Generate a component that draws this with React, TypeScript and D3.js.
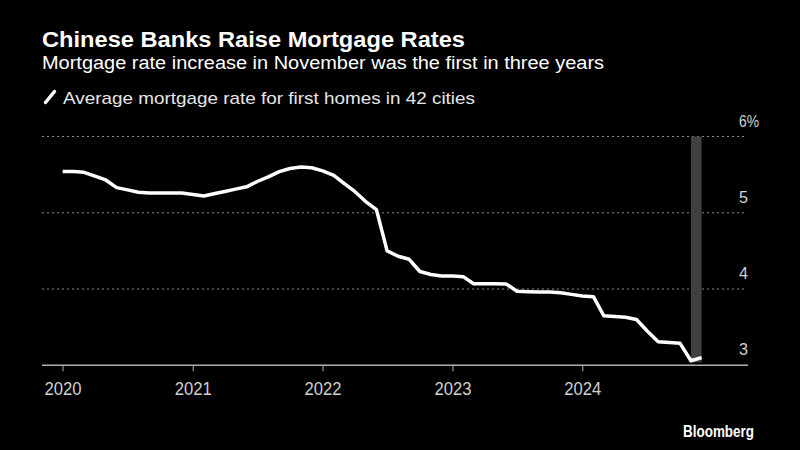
import React from "react";
import * as d3 from "d3";

const months: string[] = [
  "2019-12",
  "2020-01","2020-02","2020-03","2020-04","2020-05","2020-06","2020-07","2020-08","2020-09","2020-10","2020-11","2020-12",
  "2021-01","2021-02","2021-03","2021-04","2021-05","2021-06","2021-07","2021-08","2021-09","2021-10","2021-11","2021-12",
  "2022-01","2022-02","2022-03","2022-04","2022-05","2022-06","2022-07","2022-08","2022-09","2022-10","2022-11","2022-12",
  "2023-01","2023-02","2023-03","2023-04","2023-05","2023-06","2023-07","2023-08","2023-09","2023-10","2023-11","2023-12",
  "2024-01","2024-02","2024-03","2024-04","2024-05","2024-06","2024-07","2024-08","2024-09","2024-10","2024-11",
];

const rates: number[] = [
  5.54,
  5.54, 5.53, 5.48, 5.43, 5.33, 5.30, 5.27, 5.26, 5.26, 5.26, 5.26, 5.24,
  5.22, 5.25, 5.28, 5.31, 5.34, 5.41, 5.47, 5.54, 5.58, 5.60, 5.59, 5.55,
  5.49, 5.39, 5.28, 5.15, 5.04, 4.50, 4.43, 4.39, 4.23, 4.19, 4.17, 4.17,
  4.16, 4.07, 4.07, 4.07, 4.065, 3.97, 3.965, 3.96, 3.96, 3.95, 3.93, 3.91,
  3.90, 3.65, 3.64, 3.63, 3.60, 3.45, 3.31, 3.30, 3.29, 3.06, 3.10,
];

const yearTicks: number[] = [2020, 2021, 2022, 2023, 2024];
const yTicks: number[] = [3, 4, 5, 6];
const highlightMonths: string[] = ["2024-10", "2024-11"];

const TITLE = "Chinese Banks Raise Mortgage Rates";
const SUBTITLE = "Mortgage rate increase in November was the first in three years";
const LEGEND = "Average mortgage rate for first homes in 42 cities";

const monthEnd = (s: string) => {
  const [y, m] = s.split("-").map(Number);
  return new Date(y, m, 0);
};

export default function App() {
  const W = 800;
  const H = 450;
  const left = 42;
  const right = 748;

  const x = d3
    .scaleTime()
    .domain([new Date(2020, 0, 1), new Date(2025, 0, 1)])
    .range([63, 713]);
  const y = d3.scaleLinear().domain([3, 6]).range([365.3, 136.5]);

  const data = months.map((m, i) => ({ date: monthEnd(m), v: rates[i] }));
  const line = d3
    .line<{ date: Date; v: number }>()
    .x((d) => x(d.date))
    .y((d) => y(d.v));

  const hx0 = x(monthEnd(highlightMonths[0]));
  const hx1 = x(monthEnd(highlightMonths[1]));

  const font = "'Liberation Sans', Arial, sans-serif";

  return (
    <svg
      width={W}
      height={H}
      style={{ position: "absolute", left: 0, top: 0, background: "#000" }}
    >
      <rect x={0} y={0} width={W} height={H} fill="#000" />
      <text x={42} y={47} fill="#fff" fontFamily={font} fontWeight={700} fontSize={22}
        textLength={423} lengthAdjust="spacingAndGlyphs">{TITLE}</text>
      <text x={42} y={69} fill="#fff" fontFamily={font} fontSize={18}
        textLength={562} lengthAdjust="spacingAndGlyphs">{SUBTITLE}</text>
      <line x1={45.5} y1={102.5} x2={54.5} y2={91.5} stroke="#fff" strokeWidth={3.5} strokeLinecap="round" />
      <text x={63} y={104} fill="#e6e6e6" fontFamily={font} fontSize={17}
        textLength={412} lengthAdjust="spacingAndGlyphs">{LEGEND}</text>

      {yTicks.filter((t) => t > 3).map((t) => (
        <line key={"g" + t} x1={left} x2={right - 1} y1={y(t)} y2={y(t)}
          stroke="#8a8a8a" strokeWidth={1} strokeDasharray="2,3" />
      ))}
      {yTicks.map((t) => (
        <text key={"yl" + t} x={739} y={y(t) - 10} fill="#d0d0d0" fontFamily={font} fontSize={17}
          textLength={t === 6 ? 20 : 9} lengthAdjust="spacingAndGlyphs">
          {t === 6 ? t + "%" : String(t)}
        </text>
      ))}

      <rect x={hx0} y={y(6)} width={hx1 - hx0} height={y(3.04) - y(6)} fill="#404040" />

      <line x1={left} x2={right} y1={y(3)} y2={y(3)} stroke="#b0b0b0" strokeWidth={1.5} />
      {yearTicks.map((yr) => {
        const tx = x(new Date(yr, 0, 1));
        return (
          <g key={"x" + yr}>
            <line x1={tx} x2={tx} y1={y(3)} y2={y(3) + 6} stroke="#b0b0b0" strokeWidth={1} />
            <text x={tx} y={395} textAnchor="middle" fill="#d0d0d0" fontFamily={font} fontSize={18}
              textLength={37} lengthAdjust="spacingAndGlyphs">
              {yr}
            </text>
          </g>
        );
      })}

      <path d={line(data) || ""} fill="none" stroke="#fff" strokeWidth={3.5}
        strokeLinejoin="round" strokeLinecap="butt" />

      <text x={754} y={437} textAnchor="end" fill="#fff" fontFamily={font} fontWeight={700} fontSize={16}
        textLength={71} lengthAdjust="spacingAndGlyphs">Bloomberg</text>
    </svg>
  );
}
